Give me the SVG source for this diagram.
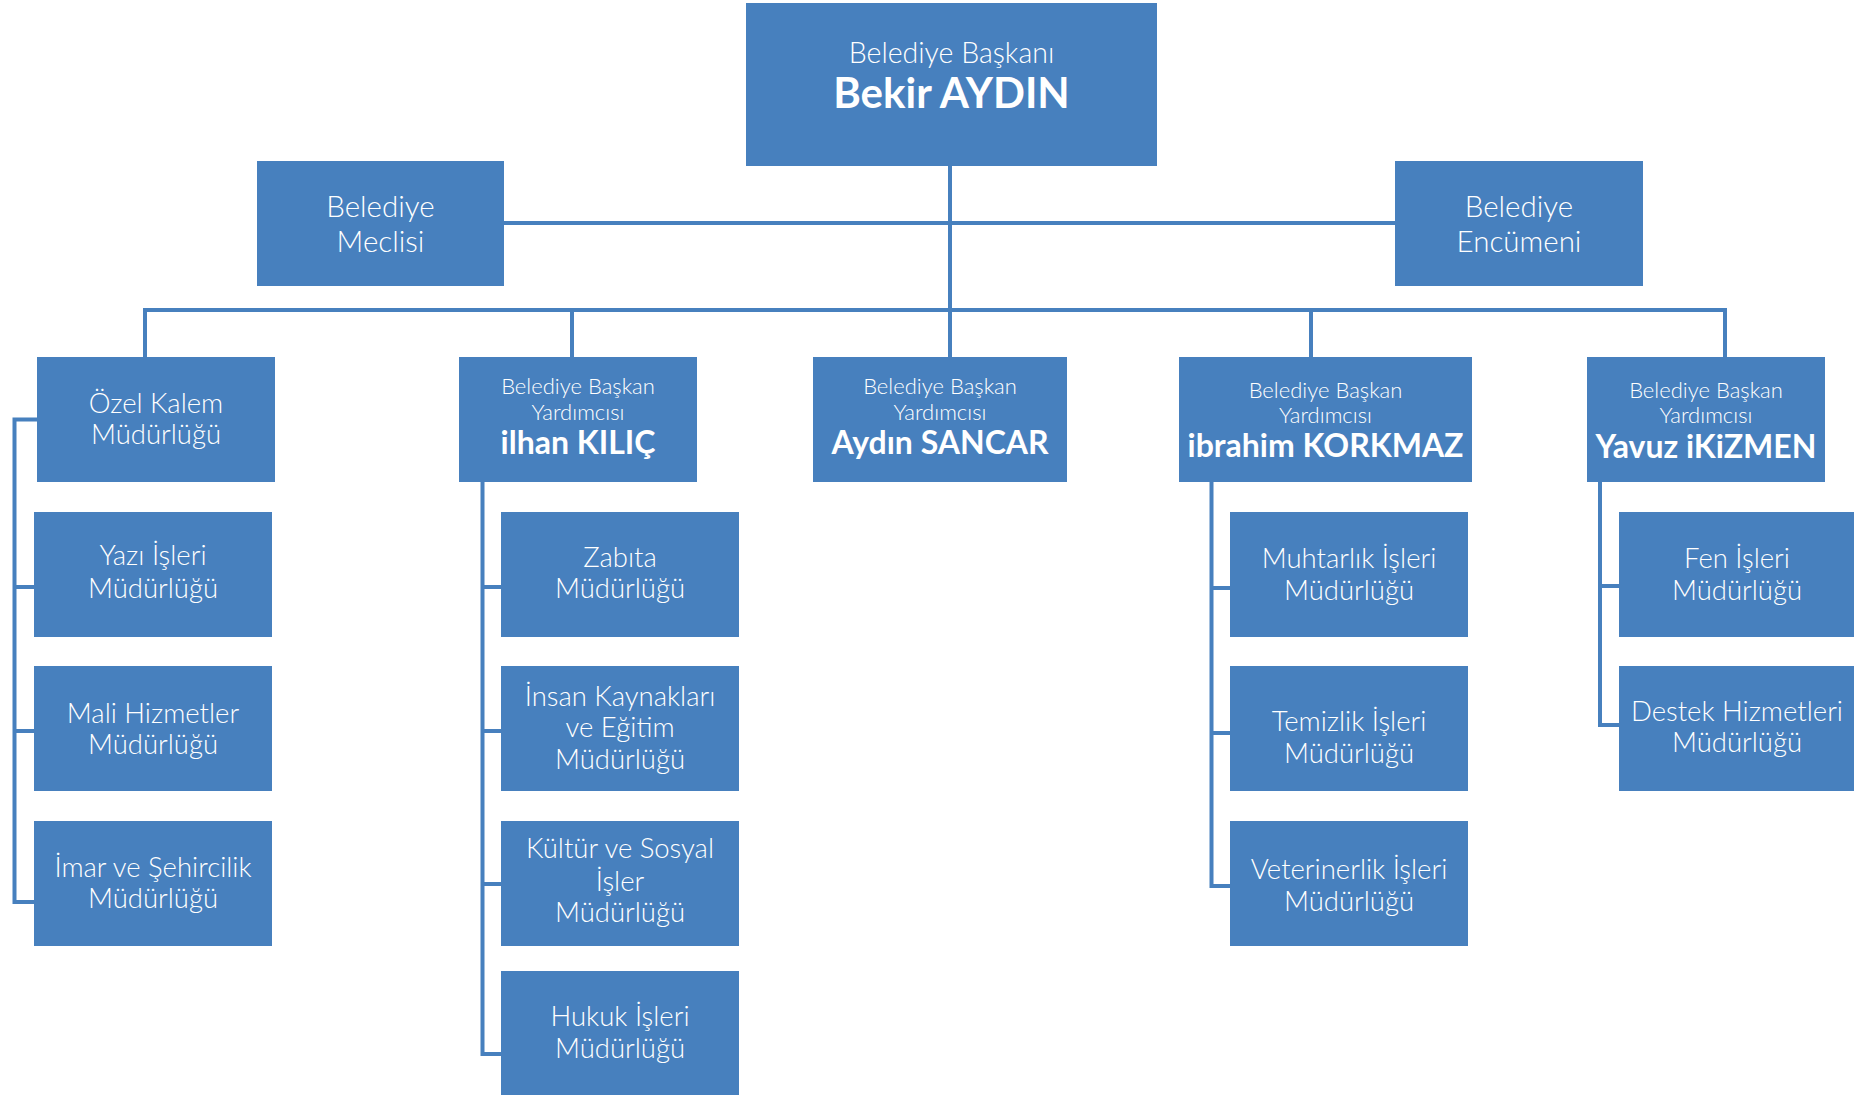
<svg xmlns="http://www.w3.org/2000/svg" width="1854" height="1095" viewBox="0 0 1854 1095">
<style>
.box{fill:#4780BE}
.conn{stroke:#4780BE;stroke-width:4;fill:none}
text{font-family:Lato,"Open Sans",sans-serif;fill:#fff;text-anchor:middle;font-weight:300}
.s{font-size:22px}
.m{font-size:27.5px}
.l{font-size:29.5px}
.t{font-size:28.5px}
.n{font-size:32px;font-weight:700}
.big{font-size:42px;font-weight:700}
</style>
<rect width="1854" height="1095" fill="#fff"/>
<g id="connectors">
<path class="conn" d="M950 166V357"/>
<path class="conn" d="M504 223H1395"/>
<path class="conn" d="M145 357V310H1725V357"/>
<path class="conn" d="M572 310V357"/>
<path class="conn" d="M1311 310V357"/>
<path class="conn" d="M38 419.5H14.5V902H34M14.5 587H34M14.5 731H34"/>
<path class="conn" d="M482.5 482V1054H501M482.5 587H501M482.5 731H501M482.5 884H501"/>
<path class="conn" d="M1211.5 482V886H1230M1211.5 588H1230M1211.5 733H1230"/>
<path class="conn" d="M1600 482V725H1619M1600 586H1619"/>
</g>
<g id="baskan"><rect class="box" x="746" y="3" width="411" height="163"/><text class="t" x="951.5" y="63">Belediye Başkanı</text><text class="big" x="951.5" y="108">Bekir AYDIN</text></g>
<g id="meclis"><rect class="box" x="257" y="161" width="247" height="125"/><text class="l" x="380.5" y="217">Belediye</text><text class="l" x="380.5" y="252">Meclisi</text></g>
<g id="encumen"><rect class="box" x="1395" y="161" width="248" height="125"/><text class="l" x="1519" y="217">Belediye</text><text class="l" x="1519" y="252">Encümeni</text></g>
<g id="ozel-kalem"><rect class="box" x="37" y="357" width="238" height="125"/><text class="m" x="156" y="413">Özel Kalem</text><text class="m" x="156" y="444">Müdürlüğü</text></g>
<g id="yazi-isleri"><rect class="box" x="34" y="512" width="238" height="125"/><text class="m" x="153" y="565">Yazı İşleri</text><text class="m" x="153" y="598">Müdürlüğü</text></g>
<g id="mali-hizmetler"><rect class="box" x="34" y="666" width="238" height="125"/><text class="m" x="153" y="723">Mali Hizmetler</text><text class="m" x="153" y="754">Müdürlüğü</text></g>
<g id="imar"><rect class="box" x="34" y="821" width="238" height="125"/><text class="m" x="153" y="877">İmar ve Şehircilik</text><text class="m" x="153" y="908">Müdürlüğü</text></g>
<g id="ilhan-kilic"><rect class="box" x="459" y="357" width="238" height="125"/><text class="s" x="578" y="394">Belediye Başkan</text><text class="s" x="578" y="420">Yardımcısı</text><text class="n" x="578" y="454">ilhan KILIÇ</text></g>
<g id="zabita"><rect class="box" x="501" y="512" width="238" height="125"/><text class="m" x="620" y="567">Zabıta</text><text class="m" x="620" y="598">Müdürlüğü</text></g>
<g id="insan-kaynaklari"><rect class="box" x="501" y="666" width="238" height="125"/><text class="m" x="620" y="706">İnsan Kaynakları</text><text class="m" x="620" y="737">ve Eğitim</text><text class="m" x="620" y="769">Müdürlüğü</text></g>
<g id="kultur-sosyal"><rect class="box" x="501" y="821" width="238" height="125"/><text class="m" x="620" y="858">Kültür ve Sosyal</text><text class="m" x="620" y="891">İşler</text><text class="m" x="620" y="922">Müdürlüğü</text></g>
<g id="hukuk"><rect class="box" x="501" y="971" width="238" height="124"/><text class="m" x="620" y="1026">Hukuk İşleri</text><text class="m" x="620" y="1058">Müdürlüğü</text></g>
<g id="aydin-sancar"><rect class="box" x="813" y="357" width="254" height="125"/><text class="s" x="940" y="394">Belediye Başkan</text><text class="s" x="940" y="420">Yardımcısı</text><text class="n" x="940" y="454">Aydın SANCAR</text></g>
<g id="ibrahim-korkmaz"><rect class="box" x="1179" y="357" width="293" height="125"/><text class="s" x="1325.5" y="398">Belediye Başkan</text><text class="s" x="1325.5" y="423">Yardımcısı</text><text class="n" x="1325.5" y="457">ibrahim KORKMAZ</text></g>
<g id="muhtarlik"><rect class="box" x="1230" y="512" width="238" height="125"/><text class="m" x="1349" y="568">Muhtarlık İşleri</text><text class="m" x="1349" y="600">Müdürlüğü</text></g>
<g id="temizlik"><rect class="box" x="1230" y="666" width="238" height="125"/><text class="m" x="1349" y="731">Temizlik İşleri</text><text class="m" x="1349" y="763">Müdürlüğü</text></g>
<g id="veterinerlik"><rect class="box" x="1230" y="821" width="238" height="125"/><text class="m" x="1349" y="879">Veterinerlik İşleri</text><text class="m" x="1349" y="911">Müdürlüğü</text></g>
<g id="yavuz-ikizmen"><rect class="box" x="1587" y="357" width="238" height="125"/><text class="s" x="1706" y="398">Belediye Başkan</text><text class="s" x="1706" y="423">Yardımcısı</text><text class="n" x="1706" y="458">Yavuz iKiZMEN</text></g>
<g id="fen-isleri"><rect class="box" x="1619" y="512" width="235" height="125"/><text class="m" x="1737" y="568">Fen İşleri</text><text class="m" x="1737" y="600">Müdürlüğü</text></g>
<g id="destek-hizmetleri"><rect class="box" x="1619" y="666" width="235" height="125"/><text class="m" x="1737" y="721">Destek Hizmetleri</text><text class="m" x="1737" y="752">Müdürlüğü</text></g>
</svg>
